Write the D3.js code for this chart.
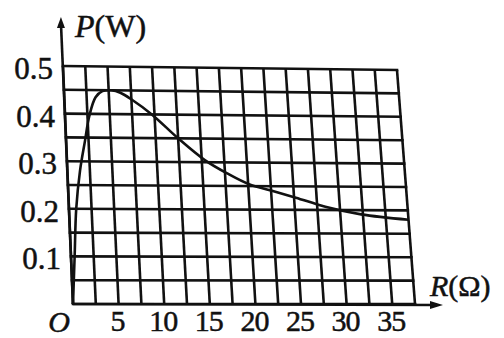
<!DOCTYPE html>
<html>
<head>
<meta charset="utf-8">
<script src="https://cdn.jsdelivr.net/npm/d3@7"></script>
<style>
  html, body { margin: 0; padding: 0; background: #fff; }
  svg { display: block; }
  text { font-family: "Liberation Serif", "DejaVu Serif", serif; fill: #111; stroke: #111; stroke-width: 0.5px; }
</style>
</head>
<body>
<svg id="chart" width="504" height="338"></svg>
<script>
// data
const resistance = [0, 0.4, 0.8, 1.4, 2.1, 2.7, 3.5, 4.3, 5.3, 6.3, 7.6, 9.7, 12.5, 15.3, 17.8, 20.1, 22.5, 25.2, 28.4, 32.3, 37.5];
const power = [0, 0.1, 0.2, 0.28, 0.343, 0.395, 0.435, 0.448, 0.45, 0.445, 0.43, 0.40, 0.35, 0.305, 0.276, 0.254, 0.241, 0.226, 0.207, 0.191, 0.18];
const xTicks = [5, 10, 15, 20, 25, 30, 35];
const yTicks = [0.1, 0.2, 0.3, 0.4, 0.5];
const xMax = 37.5, xStep = 2.5;
const yMax = 0.5, yStep = 0.05;

const svg = d3.select("#chart");

// scales give 0..1, then the page is a bit skewed (photo of a book)
const x = d3.scaleLinear().domain([0, xMax]).range([0, 1]);
const y = d3.scaleLinear().domain([0, yMax]).range([0, 1]);
const BL = [73, 304], BR = [415, 304], TL = [63, 66], TR = [397, 70];

function proj(r, p) {
  const u = x(r), v = y(p);
  const a = (1 - u) * (1 - v), b = u * (1 - v), c = (1 - u) * v, d = u * v;
  return [a * BL[0] + b * BR[0] + c * TL[0] + d * TR[0],
          a * BL[1] + b * BR[1] + c * TL[1] + d * TR[1]];
}

const g = svg.append("g");
const eps = 1e-9;
const xs = d3.range(0, xMax + eps, xStep);
const ys = d3.range(0, yMax + eps, yStep);

// grid
g.selectAll("line.v").data(xs).join("line")
  .attr("class", "v")
  .attr("x1", d => proj(d, 0)[0]).attr("y1", d => proj(d, 0)[1])
  .attr("x2", d => proj(d, yMax)[0]).attr("y2", d => proj(d, yMax)[1])
  .attr("stroke", "#111").attr("stroke-width", 2.6);

g.selectAll("line.h").data(ys).join("line")
  .attr("class", "h")
  .attr("x1", d => proj(0, d)[0]).attr("y1", d => proj(0, d)[1])
  .attr("x2", d => proj(xMax, d)[0]).attr("y2", d => proj(xMax, d)[1])
  .attr("stroke", "#111").attr("stroke-width", 2.6)
  .attr("stroke-linecap", "square");

// axes with arrows
const org = proj(0, 0), yEnd = proj(0, yMax);
const k = (org[1] - 17) / (org[1] - yEnd[1]);
const yTip = [org[0] + (yEnd[0] - org[0]) * k, 17];
g.append("line")
  .attr("x1", org[0]).attr("y1", org[1]).attr("x2", yTip[0]).attr("y2", yTip[1] + 6)
  .attr("stroke", "#111").attr("stroke-width", 2.6);
g.append("path")
  .attr("d", `M${yTip[0]},${yTip[1]} L${yTip[0] - 4},${yTip[1] + 11} L${yTip[0] + 4},${yTip[1] + 11} Z`)
  .attr("fill", "#111");

const xTip = [443, org[1] + 1];
g.append("line")
  .attr("x1", org[0]).attr("y1", org[1]).attr("x2", xTip[0] - 6).attr("y2", xTip[1])
  .attr("stroke", "#111").attr("stroke-width", 2.6);
g.append("path")
  .attr("d", `M${xTip[0]},${xTip[1]} L${xTip[0] - 13},${xTip[1] - 4} L${xTip[0] - 13},${xTip[1] + 4} Z`)
  .attr("fill", "#111");

// curve
const pts = resistance.map((r, i) => proj(r, power[i]));
g.append("path")
  .attr("d", d3.line().curve(d3.curveCatmullRom.alpha(0.5))(pts))
  .attr("fill", "none").attr("stroke", "#111").attr("stroke-width", 2.6);

// tick labels
g.selectAll("text.yt").data(yTicks).join("text")
  .attr("class", "yt")
  .attr("x", d => proj(0, d)[0] - 10)
  .attr("y", d => proj(0, d)[1] + 13)
  .attr("text-anchor", "end")
  .attr("font-size", 31)
  .text(d => d.toFixed(1));

g.selectAll("text.xt").data(xTicks).join("text")
  .attr("class", "xt")
  .attr("x", d => proj(d, 0)[0] - 1)
  .attr("y", 331)
  .attr("text-anchor", "middle")
  .attr("font-size", 30)
  .attr("letter-spacing", -1)
  .text(d => d);

g.append("text").attr("x", 59).attr("y", 332)
  .attr("text-anchor", "middle").attr("font-size", 30).attr("font-style", "italic")
  .text("O");

const pl = g.append("text").attr("x", 75).attr("y", 37).attr("font-size", 32);
pl.append("tspan").attr("font-style", "italic").text("P");
pl.append("tspan").text("(W)");

const rl = g.append("text").attr("x", 430).attr("y", 296).attr("font-size", 30);
rl.append("tspan").attr("font-style", "italic").text("R");
rl.append("tspan").text("(Ω)");
</script>
</body>
</html>
